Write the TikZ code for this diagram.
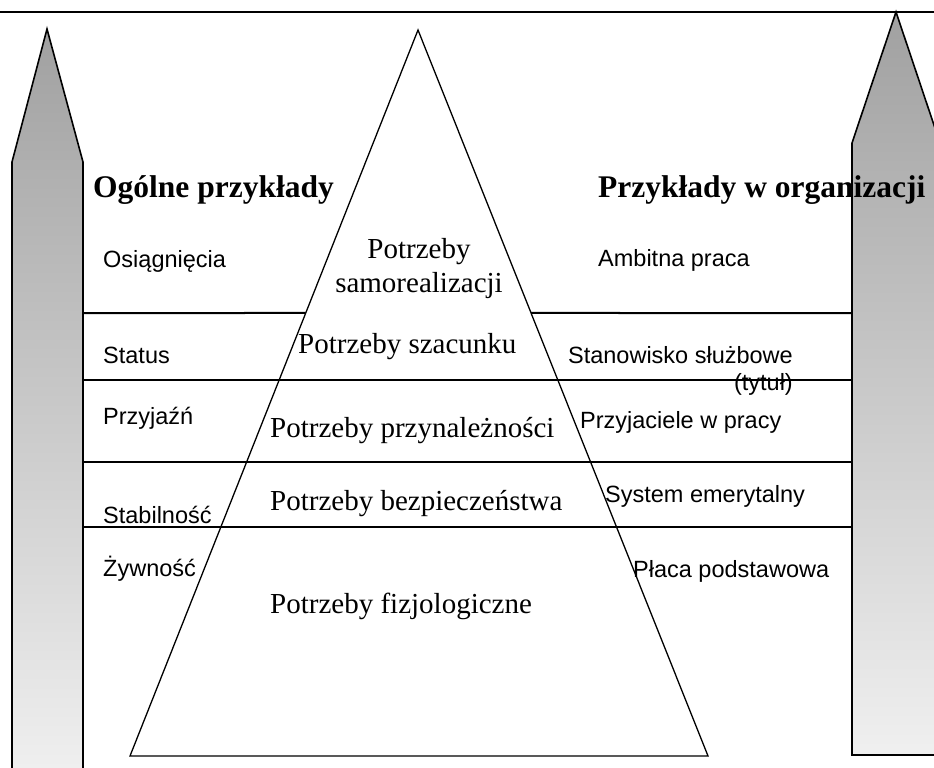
\documentclass[tikz,border=0pt]{standalone}
\usepackage{fontspec}
\setmainfont{Liberation Serif}
\newfontfamily\arialfont{Liberation Sans}
\usetikzlibrary{calc}

\tikzset{
  pillar/.style={draw=black, line width=1.6pt, top color=black!37, bottom color=black!6},
  level/.style={line width=1.3pt},
  need/.style={font=\fontsize{29}{33}\selectfont, inner sep=0pt},
  example/.style={font=\arialfont\fontsize{23.5}{27}\selectfont, inner sep=0pt, anchor=base west},
  heading/.style={font=\bfseries\fontsize{31.5}{35}\selectfont, inner sep=0pt, anchor=base west}
}

\begin{document}
\begin{tikzpicture}[x=1pt, y=-1pt]
\useasboundingbox (0,0) rectangle (934,768);
\clip (0,0) rectangle (934,768);

\draw[line width=1.8pt] (0,12) -- (934,12);

% the two pillars
\draw[pillar] (12,775) -- (12,162) -- (47,29) -- (83,162) -- (83,775) -- cycle;
\draw[pillar] (852,755) -- (852,143) -- (896,12) -- (940,143) -- (940,755) -- cycle;

% the pyramid
\coordinate (apex) at (418,30);
\coordinate (bl) at (130,756);
\coordinate (br) at (708,756);

\draw[level, line width=2pt] (83,313) -- ($(apex)!0.3898!(bl)$);
\draw[level, line width=2pt] ($(apex)!0.3898!(br)$) -- (852,313);
\foreach \y in {380,462,527}
  \draw[level] (83,\y) -- (852,\y);

\draw[level] (apex) -- (bl) -- (br) -- cycle;

% headings
\node[heading] (general) at (93,197) {Ogólne przykłady};
\node[heading] (inorg) at (598,197) {Przykłady w organizacji};

% levels of needs
\node[need, anchor=base] (self1) at (419,258) {Potrzeby};
\node[need, anchor=base] (self2) at (419,292) {samorealizacji};
\node[need, anchor=base west] (esteem) at (298,353) {Potrzeby szacunku};
\node[need, anchor=base west] (belong) at (270,437) {Potrzeby przynależności};
\node[need, anchor=base west] (safety) at (270,510) {Potrzeby bezpieczeństwa};
\node[need, anchor=base west] (physio) at (270,613) {Potrzeby fizjologiczne};

% general examples
\node[example] (achieve) at (103,267) {Osiągnięcia};
\node[example] (status) at (103,363) {Status};
\node[example] (friend) at (103,424) {Przyjaźń};
\node[example] (stable) at (103,523) {Stabilność};
\node[example] (food) at (103,576) {Żywność};

% examples in the organisation
\node[example] (work) at (598,266) {Ambitna praca};
\node[example, anchor=base east] (post) at (793,363) {Stanowisko służbowe};
\node[example, anchor=base east] (posttitle) at ($(post.base east)+(0,27)$) {(tytuł)};
\node[example] (mates) at (580,428) {Przyjaciele w pracy};
\node[example] (pension) at (605,502) {System emerytalny};
\node[example] (wage) at (633,577) {Płaca podstawowa};

\end{tikzpicture}
\end{document}
